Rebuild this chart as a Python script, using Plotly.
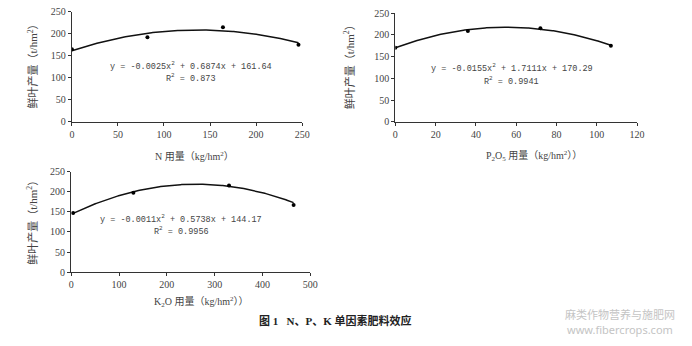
import numpy as np
import plotly.graph_objects as go

# Data
n_x = [0, 82, 164, 246]
n_y = [165, 192, 215, 175]
n_coef = [-0.0025, 0.6874, 161.64]

p_x = [0, 36, 72, 107]
p_y = [170, 209, 215, 175]
p_coef = [-0.0155, 1.7111, 170.29]

k_x = [4, 130, 330, 465]
k_y = [147, 198, 216, 167]
k_coef = [-0.0011, 0.5738, 144.17]

W, H = 692, 346
def px(x): return x / W
def py(y): return 1 - y / H

fig = go.Figure()

panels = [
    dict(x=n_x, y=n_y, c=n_coef, xa="x", ya="y", xr=[0, 250], dt=50,
         xd=[70, 304], yd=[6, 120],
         eq="y = -0.0025x<sup>2</sup> + 0.6874x + 161.64", r2="R<sup>2</sup> = 0.873",
         eqpos=(191, 62), r2pos=(191, 75),
         xt="N 用量（kg/hm<sup>2</sup>）", xtpos=(195, 155), ytpos=(30, 60)),
    dict(x=p_x, y=p_y, c=p_coef, xa="x2", ya="y2", xr=[0, 120], dt=20,
         xd=[398.7, 644.3], yd=[7.3, 120],
         eq="y = -0.0155x<sup>2</sup> + 1.7111x + 170.29", r2="R<sup>2</sup> = 0.9941",
         eqpos=(517, 64), r2pos=(517, 78),
         xt="P<sub>2</sub>O<sub>5</sub> 用量（kg/hm<sup>2</sup>））", xtpos=(540, 155), ytpos=(352, 60)),
    dict(x=k_x, y=k_y, c=k_coef, xa="x3", ya="y3", xr=[0, 500], dt=100,
         xd=[69.3, 312.3], yd=[171.7, 275.7],
         eq="y = -0.0011x<sup>2</sup> + 0.5738x + 144.17", r2="R<sup>2</sup> = 0.9956",
         eqpos=(181, 221), r2pos=(181, 233),
         xt="K<sub>2</sub>O 用量（kg/hm<sup>2</sup>））", xtpos=(202, 307), ytpos=(30, 222)),
]

SERIF = "Liberation Serif, Times New Roman, DejaVu Serif, serif"
annots = []
layout_axes = {}
for i, p in enumerate(panels):
    xs = np.linspace(min(p["x"]), max(p["x"]), 200)
    a, b, c = p["c"]
    fig.add_trace(go.Scatter(x=xs, y=a * xs**2 + b * xs + c, mode="lines",
                             line=dict(color="#111", width=1.5), xaxis=p["xa"], yaxis=p["ya"],
                             showlegend=False, hoverinfo="skip"))
    fig.add_trace(go.Scatter(x=p["x"], y=p["y"], mode="markers",
                             marker=dict(color="#000", size=4), xaxis=p["xa"], yaxis=p["ya"],
                             showlegend=False))
    suffix = "" if i == 0 else str(i + 1)
    tickfont = dict(family=SERIF, size=10, color="#444")
    layout_axes["xaxis" + suffix] = dict(
        domain=[px(p["xd"][0]), px(p["xd"][1])], range=p["xr"], dtick=p["dt"], tick0=0,
        anchor="y" + suffix, showline=True, linecolor="#333", linewidth=1.2,
        ticks="outside", ticklen=3, tickcolor="#333", showgrid=False, zeroline=False,
        tickfont=tickfont)
    layout_axes["yaxis" + suffix] = dict(
        domain=[py(p["yd"][1]), py(p["yd"][0])], range=[0, 250], dtick=50,
        anchor="x" + suffix, showline=True, linecolor="#333", linewidth=1.2,
        ticks="outside", ticklen=3, tickcolor="#333", showgrid=False, zeroline=False,
        tickfont=tickfont)
    mono = dict(family="Liberation Mono, DejaVu Sans Mono, monospace", size=8.5, color="#444")
    annots.append(dict(text=p["eq"], x=px(p["eqpos"][0]), y=py(p["eqpos"][1]),
                       xref="paper", yref="paper", showarrow=False, font=mono,
                       xanchor="center", yanchor="middle"))
    annots.append(dict(text=p["r2"], x=px(p["r2pos"][0]), y=py(p["r2pos"][1]),
                       xref="paper", yref="paper", showarrow=False, font=mono,
                       xanchor="center", yanchor="middle"))
    annots.append(dict(text=p["xt"], x=px(p["xtpos"][0]), y=py(p["xtpos"][1]),
                       xref="paper", yref="paper", showarrow=False,
                       font=dict(family="Liberation Serif, Noto Sans CJK SC", size=10, color="#444"),
                       xanchor="center", yanchor="middle"))
    annots.append(dict(text="鲜叶产量（t/hm<sup>2</sup>）", x=px(p["ytpos"][0]), y=py(p["ytpos"][1]),
                       xref="paper", yref="paper", showarrow=False, textangle=-90,
                       font=dict(family="Liberation Serif, Noto Sans CJK SC", size=11, color="#444"),
                       xanchor="center", yanchor="middle"))

annots.append(dict(text="<b>图 1   N、P、K 单因素肥料效应</b>", x=px(258), y=py(326),
                   xref="paper", yref="paper", showarrow=False, xanchor="left", yanchor="middle",
                   font=dict(family="Liberation Serif, Noto Sans CJK SC", size=11, color="#222")))
annots.append(dict(text="麻类作物营养与施肥网", x=px(627), y=py(319),
                   xref="paper", yref="paper", showarrow=False, xanchor="center", yanchor="middle",
                   font=dict(family="Noto Sans CJK SC", size=11, color="#c4c4c4")))
annots.append(dict(text="www.fibercrops.com", x=px(627), y=py(335),
                   xref="paper", yref="paper", showarrow=False, xanchor="center", yanchor="middle",
                   font=dict(family="Noto Sans", size=11, color="#c4c4c4")))

fig.update_layout(width=W, height=H, margin=dict(l=0, r=0, t=0, b=0),
                  paper_bgcolor="white", plot_bgcolor="white",
                  annotations=annots, **layout_axes)
fig.write_html("out.html")
